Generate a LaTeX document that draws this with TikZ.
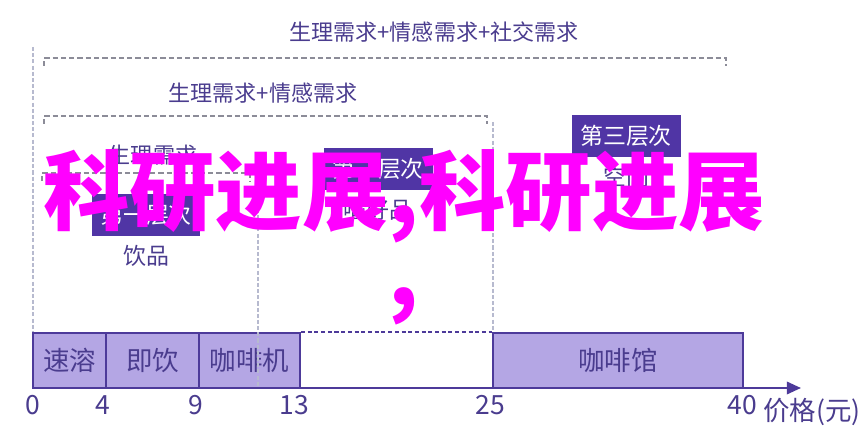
\documentclass[tikz,border=0pt]{standalone}
\usepackage{fontspec}
\newfontfamily\cjk{Noto Sans CJK SC}
\usetikzlibrary{arrows.meta,positioning}

\definecolor{inkpurple}{HTML}{4A3C8E}
\definecolor{tierfill}{HTML}{5035A5}
\definecolor{barfill}{HTML}{B4A6E4}
\definecolor{barline}{HTML}{4D3A9A}
\definecolor{bracketgray}{HTML}{8C8C98}
\definecolor{guidegray}{HTML}{B7BACF}
\definecolor{wmmagenta}{HTML}{FF00FF}

\begin{document}
\begin{tikzpicture}[
            x = 0.567pt, y = -0.567pt,
            font = \cjk,
            node distance = 23pt,
            tier/.style = {
                fill = tierfill, text = white,
                inner sep = 0pt,
                minimum width = 61.8pt,
                minimum height = 23.5pt,
                font = \cjk\fontsize{13}{15}\selectfont,
            },
            tiername/.style = {
                text = inkpurple,
                font = \cjk\fontsize{13}{15}\selectfont,
            },
            needs/.style = {
                text = inkpurple,
                font = \cjk\fontsize{12.5}{15}\selectfont,
            },
            bracket/.style = {
                draw = bracketgray, line width = 0.6pt,
                dash pattern = on 3pt off 1.7pt,
            },
            guide/.style = {
                draw = guidegray, line width = 1.5pt,
                dash pattern = on 2.3pt off 1.2pt,
            },
            pricebar/.style = {
                draw = barline, fill = barfill,
                line width = 1.1pt, inner sep = 0pt,
                minimum height = 31.2pt,
                text = inkpurple,
                font = \cjk\fontsize{15}{18}\selectfont,
            },
            ticklabel/.style = {
                text = inkpurple,
                font = \cjk\fontsize{15}{18}\selectfont,
            },
            axisline/.style = {
                draw = barline, line width = 1.3pt,
                -{Triangle[length = 8pt, width = 7pt]},
            },
            watermark/.style = {
                text = wmmagenta, align = center, inner sep = 0pt,
                font = \cjk\bfseries\fontsize{49}{46.5}\selectfont,
            },
        ]

        \useasboundingbox (0,0) rectangle (864,443);

        % Leitlinien
        \draw[guide] (33,47) -- (33,333);
        \draw[guide] (493,122) -- (493,333);

        % Klammern der Beduerfnisse
        \coordinate (b3l) at (44,58);
        \coordinate (b3r) at (726,58);
        \coordinate (b2l) at (44,116);
        \coordinate (b2r) at (487,116);
        \coordinate (b1l) at (42,173);
        \coordinate (b1r) at (250,173);
        \draw[bracket] (b3l) ++(0,8) -- (b3l) -- (b3r) -- ++(0,8);
        \draw[bracket] (b2l) ++(0,8) -- (b2l) -- (b2r) -- ++(0,8);
        \draw[bracket] (b1l) ++(0,8) -- (b1l) -- (b1r) -- ++(0,8);

        \node[needs] (need3) at (434,32) {生理需求+情感需求+社交需求};
        \node[needs] (need2) at (263,93) {生理需求+情感需求};
        \node[needs] (need1) at (153,155) {生理需求};

        % Schichten
        \node[tier] (tier1) at (146,215) {第一层次};
        \node[tiername, below of = tier1] (drink) {饮品};
        \node[tier] (tier2) at (378,169) {第二层次};
        \node[tiername, below of = tier2] (hobby) {嗜好品};
        \node[tier] (tier3) at (626,136) {第三层次};
        \node[tiername, below of = tier3] (space) {空间};

        % Preisbalken
        \foreach \a/\b/\t [count = \i] in {33/106/速溶, 106/199/即饮, 199/300/咖啡机, 493/743/咖啡馆}
            \node[pricebar, minimum width = {(\b-\a)*0.567pt}] (bar\i) at ({(\a+\b)/2},360.5) {\t};

        \draw[guide] (258,178) -- (258,387);

        \draw[barline, line width = 1.1pt, dash pattern = on 2.3pt off 1.5pt]
            (bar3.north east) -- (bar4.north west);

        % Achse
        \coordinate (origin) at (33,388);
        \coordinate (xend) at (801,388);
        \draw[axisline] (origin) -- (xend);

        \foreach \x/\n in {33/0, 103/4, 196/9, 294/13, 490/25, 742/40}
            \node[ticklabel] (tick\n) at (\x,405) {\n};
        \node[ticklabel] (unit) at (812,412) {价格(元)};

        % Ueberdruck
        \node[watermark] (wm) at (404,237) {科研进展,科研进展\\,};
    \end{tikzpicture}
\end{document}
